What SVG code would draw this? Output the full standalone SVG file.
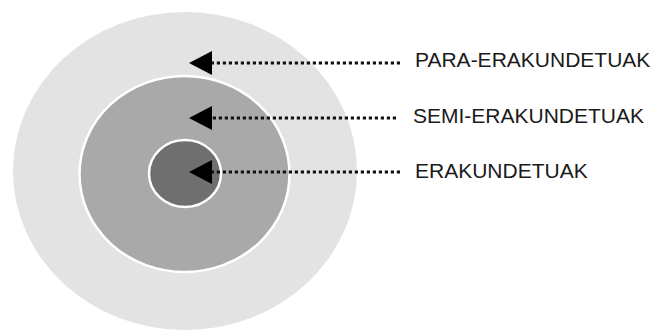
<svg xmlns="http://www.w3.org/2000/svg" width="656" height="331" viewBox="0 0 656 331">
  <style>
    .ring { stroke: #ffffff; stroke-width: 2.5; }
    .lbl { font-family: "Liberation Sans", Arial, sans-serif; font-size: 21px; fill: #1a1a1a; }
    .conn { stroke: #111; stroke-width: 3.2; stroke-dasharray: 3.2 2.8; fill: none; }
  </style>
  <defs>
    <marker id="ah" viewBox="0 0 23 24" refX="0" refY="12" markerWidth="23" markerHeight="24" markerUnits="userSpaceOnUse" orient="auto-start-reverse">
      <path d="M0,0 L23,12 L0,24 Z" fill="#000"/>
    </marker>
  </defs>
  <rect width="656" height="331" fill="#ffffff"/>
  <g id="para">
    <ellipse cx="185" cy="171" rx="172" ry="159" fill="#e3e3e3"/>
    <text class="lbl" x="415" y="67">PARA-ERAKUNDETUAK</text>
  </g>
  <g id="semi">
    <ellipse class="ring" cx="184.5" cy="174" rx="105" ry="98" fill="#a9a9a9"/>
    <text class="lbl" x="413" y="123">SEMI-ERAKUNDETUAK</text>
  </g>
  <g id="erakundetuak">
    <ellipse class="ring" cx="185" cy="173.5" rx="36" ry="33.5" fill="#6f6f6f"/>
    <text class="lbl" x="415" y="178">ERAKUNDETUAK</text>
  </g>
  <g id="connectors">
    <line class="conn" x1="400" y1="63" x2="212" y2="63" marker-end="url(#ah)"/>
    <line class="conn" x1="396" y1="118" x2="212" y2="118" marker-end="url(#ah)"/>
    <line class="conn" x1="400" y1="172" x2="212" y2="172" marker-end="url(#ah)"/>
  </g>
</svg>
